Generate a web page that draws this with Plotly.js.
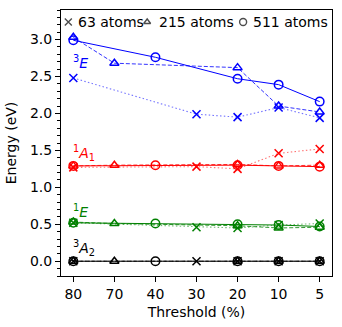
<!DOCTYPE html>
<html>
<head>
<meta charset="utf-8">
<script src="https://cdn.plot.ly/plotly-3.0.1.min.js"></script>
<style>html,body{margin:0;padding:0;background:#fff;}#chart{width:342px;height:327px;}</style>
</head>
<body>
<div id="chart"></div>
<script>
// Threshold categories (x axis)
const thresholds = ['80', '70', '40', '30', '20', '10', '5'];
// thresholds sampled for each supercell size
const x63  = ['80', '30', '20', '10', '5'];
const x215 = ['80', '70', '20', '10', '5'];
const x511 = ['80', '40', '20', '10', '5'];

// 3E state energies (eV)
const e3E_63  = [2.48, 1.99, 1.95, 2.08, 1.94];
const e3E_215 = [3.03, 2.68, 2.62, 2.10, 2.02];
const e3E_511 = [2.99, 2.76, 2.47, 2.39, 2.16];
// 1A1 state energies (eV)
const e1A1_63  = [1.27, 1.28, 1.25, 1.46, 1.52];
const e1A1_215 = [1.29, 1.30, 1.31, 1.29, 1.30];
const e1A1_511 = [1.29, 1.30, 1.30, 1.29, 1.28];
// 1E state energies (eV)
const e1E_63  = [0.52, 0.46, 0.45, 0.49, 0.51];
const e1E_215 = [0.53, 0.51, 0.48, 0.45, 0.46];
const e1E_511 = [0.52, 0.51, 0.50, 0.49, 0.47];
// 3A2 ground state (eV)
const e3A2_63  = [0, 0, 0, 0, 0];
const e3A2_215 = [0, 0, 0, 0, 0];
const e3A2_511 = [0, 0, 0, 0, 0];

const sizeNames = ['63 atoms', '215 atoms', '511 atoms'];
const stateNames = ['<sup>3</sup><i>E</i>', '<sup>1</sup><i>A</i><sub>1</sub>', '<sup>1</sup><i>E</i>', '<sup>3</sup><i>A</i><sub>2</sub>'];

const FONT = 'DejaVu Sans, sans-serif';
const colors = ['#0000ff', '#ff0000', '#008000', '#000000'];
const colorsA = [
  ['rgba(0,0,255,0.55)', 'rgba(0,0,255,0.8)', '#0000ff'],
  ['rgba(255,0,0,0.55)', 'rgba(255,0,0,0.8)', '#ff0000'],
  ['rgba(0,128,0,0.55)', 'rgba(0,128,0,0.8)', '#008000'],
  ['rgba(0,0,0,0.55)', 'rgba(0,0,0,0.8)', '#000000']
];
const xs = [x63, x215, x511];
const symbols = ['x-thin-open', 'triangle-up-open', 'circle-open'];
const sizes = [8, 8, 8.5];
const dashes = ['1.5px,2.3px', '4px,2px', 'solid'];
const widths = [1.1, 1, 1];
const states = [
  [e3E_63, e3E_215, e3E_511],
  [e1A1_63, e1A1_215, e1A1_511],
  [e1E_63, e1E_215, e1E_511],
  [e3A2_63, e3A2_215, e3A2_511]
];

const traces = [];
states.forEach((st, si) => {
  st.forEach((vals, k) => {
    traces.push({
      x: xs[k], y: vals, type: 'scatter', mode: 'lines+markers',
      showlegend: false, cliponaxis: false,
      line: {color: colorsA[si][k], width: widths[k], dash: dashes[k]},
      marker: {symbol: symbols[k], size: sizes[k], color: colors[si],
               line: {color: colors[si], width: 1.5}},
      hoverinfo: 'skip'
    });
  });
});

// legend key markers (on an invisible overlay axis 0..1)
const legMarkX = [0.027, 0.318, 0.672];
const legTextX = [0.063, 0.362, 0.707];
const legY = 0.955;
traces.push({
  x: legMarkX, y: [legY, legY, legY], xaxis: 'x2', yaxis: 'y2',
  type: 'scatter', mode: 'markers', showlegend: false, hoverinfo: 'skip', cliponaxis: false,
  marker: {symbol: symbols, size: [7, 6, 7], color: '#000', line: {color: '#000', width: 1.4}}
});

const labelY = [2.70, 1.46, 0.68, 0.18];
const annotations = stateNames.map((t, i) => ({
  x: 0, y: labelY[i], xref: 'x', yref: 'y', text: t, showarrow: false,
  xanchor: 'left', yanchor: 'middle', xshift: -2,
  font: {family: FONT, size: 14, color: colors[i]}
}));
sizeNames.forEach((t, i) => {
  annotations.push({
    x: legTextX[i], y: legY, xref: 'paper', yref: 'paper', text: t, showarrow: false,
    xanchor: 'left', yanchor: 'middle', xshift: -2,
    font: {family: FONT, size: 14, color: '#000'}
  });
});

const layout = {
  width: 342, height: 327,
  margin: {l: 61, r: 10, t: 10, b: 51, pad: 0},
  paper_bgcolor: '#fff', plot_bgcolor: '#fff',
  font: {family: FONT, size: 14, color: '#000'},
  showlegend: false,
  xaxis: {
    type: 'category', categoryorder: 'array', categoryarray: thresholds,
    tickvals: thresholds, ticktext: thresholds,
    range: [-0.3, 6.3], showgrid: false, zeroline: false,
    showline: true, mirror: true, linecolor: '#000', linewidth: 1,
    ticks: 'outside', ticklen: 5, tickwidth: 1, tickcolor: '#000',
    tickfont: {family: FONT, size: 14, color: '#000'},
    title: {text: 'Threshold (%)', font: {family: FONT, size: 14, color: '#000'}, standoff: 6}
  },
  yaxis: {
    range: [-0.2, 3.4], showgrid: false, zeroline: false,
    tickvals: [0, 0.5, 1, 1.5, 2, 2.5, 3], tickformat: '.1f',
    showline: true, mirror: true, linecolor: '#000', linewidth: 1,
    ticks: 'outside', ticklen: 5, tickwidth: 1, tickcolor: '#000',
    minor: {dtick: 0.1, tick0: 0, ticks: 'outside', ticklen: 3, tickwidth: 1, tickcolor: '#000', showgrid: false},
    tickfont: {family: FONT, size: 14, color: '#000'},
    title: {text: 'Energy (eV)', font: {family: FONT, size: 14, color: '#000'}, standoff: 10}
  },
  xaxis2: {overlaying: 'x', anchor: 'y2', range: [0, 1], visible: false, fixedrange: true},
  yaxis2: {overlaying: 'y', anchor: 'x2', range: [0, 1], visible: false, fixedrange: true},
  annotations: annotations
};

Plotly.newPlot('chart', traces, layout, {displayModeBar: false, staticPlot: true});
</script>
</body>
</html>
